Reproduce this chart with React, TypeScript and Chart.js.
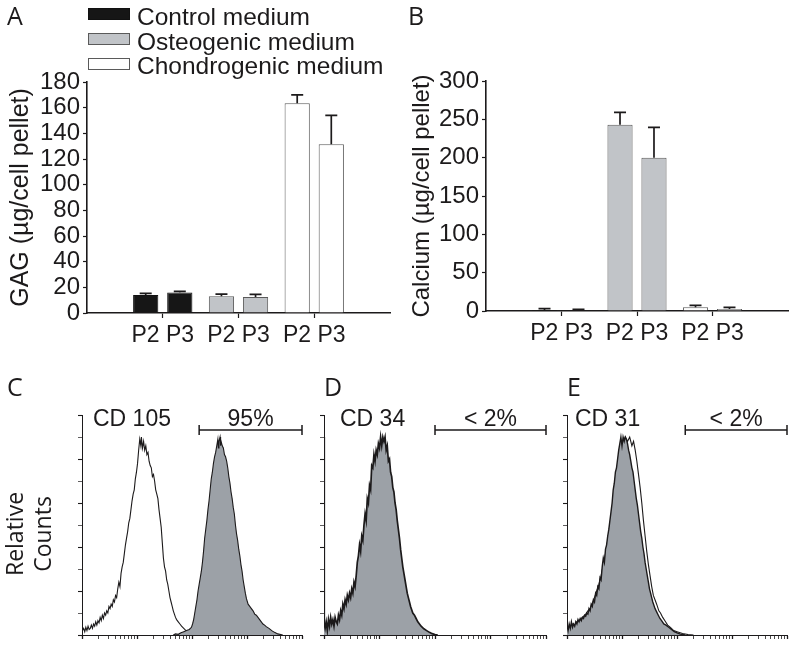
import React, { useEffect, useRef } from 'react';
import { Chart, registerables } from 'chart.js';

Chart.register(...registerables);

// ---------------- DATA ----------------
const groupLabels = ['', 'P2 P3', 'P2 P3', 'P2 P3', ''];
const mediumNames = ['Control medium', 'Osteogenic medium', 'Chondrogenic medium'];

// Panel A: GAG (µg/cell pellet) per medium, passages P2 and P3
const gagP2 = [14, 13, 163.5];
const gagP2Err = [1.3, 1.7, 6.5];
const gagP3 = [16, 12.5, 131.5];
const gagP3Err = [0.8, 2, 22.5];

// Panel B: Calcium (µg/cell pellet)
const caP2 = [1.3, 243, 4.8];
const caP2Err = [1.7, 16, 2.6];
const caP3 = [0.9, 200, 2.6];
const caP3Err = [1.3, 39.5, 2.2];

const yTicksA = { min: 0, max: 180, step: 20 };
const yTicksB = { min: 0, max: 300, step: 50 };

// Flow cytometry histograms: [log10 fluorescence, relative count]
const cd105Iso: [number, number][] = [[0,60],[0.008,2],[0.03,3],[0.05,1.5],[0.07,3.5],[0.09,2],[0.11,4],[0.13,2.5],[0.15,3],[0.17,4.5],[0.19,3],[0.21,5],[0.23,4],[0.25,6],[0.27,4.5],[0.29,6.5],[0.31,5.5],[0.33,8],[0.35,6.5],[0.37,9],[0.39,7.5],[0.41,10],[0.43,9],[0.45,11],[0.47,10],[0.49,13],[0.51,12],[0.53,14],[0.55,13],[0.57,16],[0.59,15],[0.61,18],[0.63,17],[0.65,21],[0.67,24],[0.69,22],[0.71,28],[0.73,31],[0.75,33],[0.77,37],[0.79,41],[0.81,44],[0.83,47],[0.85,51],[0.87,53],[0.89,57],[0.91,61],[0.93,64],[0.95,66],[0.97,71],[0.99,74],[1.01,78],[1.03,84],[1.05,89],[1.07,86],[1.08,90],[1.10,85],[1.12,88],[1.14,84],[1.16,86],[1.18,82],[1.20,83],[1.22,79],[1.24,77],[1.26,76],[1.28,72],[1.30,73],[1.32,70],[1.34,66],[1.36,64],[1.38,62],[1.40,57],[1.42,53],[1.44,49],[1.46,42],[1.48,35],[1.50,31],[1.52,29],[1.54,25],[1.56,23],[1.58,20],[1.60,17],[1.62,15],[1.64,13],[1.66,11],[1.68,9.5],[1.70,8],[1.72,7],[1.75,6],[1.78,5],[1.81,4],[1.85,3],[1.89,2],[1.94,1],[2.0,0.5],[2.1,0]];
const cd105: [number, number][] = [[1.66,0],[1.70,0.5],[1.75,0.3],[1.80,1],[1.85,1.5],[1.90,2],[1.95,2.5],[1.99,3.5],[2.01,5],[2.03,7],[2.05,10],[2.07,13],[2.09,16],[2.11,20],[2.13,23],[2.15,26],[2.17,29],[2.19,33],[2.21,38],[2.23,44],[2.25,48],[2.27,52],[2.29,57],[2.31,61],[2.33,66],[2.35,71],[2.37,74],[2.39,78],[2.41,81],[2.43,83],[2.45,86],[2.47,89],[2.48,85],[2.49,88],[2.51,90],[2.52,86],[2.53,88],[2.55,86],[2.57,85],[2.59,82],[2.61,81],[2.63,79],[2.65,76],[2.67,72],[2.69,69],[2.71,65],[2.73,62],[2.75,58],[2.77,55],[2.79,50],[2.81,46],[2.83,43],[2.85,39],[2.87,36],[2.89,32],[2.91,29],[2.93,25],[2.95,22],[2.97,19],[2.99,16.5],[3.02,14],[3.05,13],[3.08,12],[3.11,11],[3.14,9.5],[3.17,9],[3.20,8],[3.23,7],[3.26,6],[3.29,5],[3.32,4.5],[3.35,3.8],[3.40,3],[3.45,2],[3.50,1.2],[3.56,0.5],[3.65,0]];
const cd34: [number, number][] = [[0,90],[0.005,5],[0.02,3],[0.04,6],[0.06,2],[0.08,7],[0.10,4],[0.12,8],[0.14,5],[0.16,7],[0.18,4],[0.20,8],[0.22,6],[0.24,5],[0.26,9],[0.28,7],[0.30,11],[0.32,9],[0.34,14],[0.36,12],[0.38,16],[0.40,14],[0.42,18],[0.44,16],[0.46,19],[0.48,17],[0.50,21],[0.52,19],[0.54,24],[0.56,22],[0.58,27],[0.60,33],[0.62,36],[0.64,41],[0.66,38],[0.68,45],[0.70,43],[0.72,50],[0.74,55],[0.76,52],[0.78,62],[0.80,60],[0.82,68],[0.84,66],[0.86,77],[0.88,76],[0.90,82],[0.92,79],[0.94,84],[0.96,82],[0.98,87],[1.00,85],[1.02,90],[1.04,86],[1.06,90],[1.08,88],[1.10,90],[1.12,84],[1.14,86],[1.16,79],[1.18,80],[1.20,74],[1.22,72],[1.24,67],[1.26,65],[1.28,60],[1.30,57],[1.32,52],[1.34,48],[1.36,44],[1.38,39],[1.40,35],[1.42,31],[1.44,28],[1.46,25],[1.48,22],[1.50,19],[1.52,17],[1.54,15],[1.56,13],[1.58,11.5],[1.60,10],[1.63,9],[1.66,7.5],[1.69,6],[1.72,5],[1.75,4],[1.80,2.8],[1.85,2],[1.90,1.2],[1.95,0.6],[2.0,0.2],[2.05,0]];
const cd31: [number, number][] = [[0,90],[0.005,4],[0.02,2],[0.04,5],[0.06,3],[0.08,6],[0.10,3.5],[0.12,5],[0.14,4],[0.16,6],[0.18,5],[0.20,7],[0.22,6],[0.24,7.5],[0.26,6.5],[0.28,8],[0.30,7.5],[0.32,9],[0.34,8.5],[0.36,10],[0.38,9.5],[0.40,12],[0.42,11],[0.44,14],[0.46,13],[0.48,16],[0.50,15],[0.52,19],[0.54,18],[0.56,22],[0.58,21],[0.60,26],[0.62,25],[0.64,31],[0.66,35],[0.68,33],[0.70,39],[0.72,41],[0.74,45],[0.76,48],[0.78,52],[0.80,56],[0.82,60],[0.84,66],[0.86,69],[0.88,74],[0.90,76],[0.92,80],[0.94,84],[0.96,87],[0.98,90],[1.00,86],[1.02,90],[1.04,88],[1.06,90],[1.08,89],[1.10,87],[1.12,84],[1.14,82],[1.16,79],[1.18,76],[1.20,74],[1.22,70],[1.24,66],[1.26,62],[1.28,59],[1.30,55],[1.32,51],[1.34,47],[1.36,44],[1.38,40],[1.40,37],[1.42,33],[1.44,30],[1.46,27],[1.48,24],[1.50,21],[1.52,19],[1.54,17],[1.56,15],[1.58,13.5],[1.60,12],[1.63,10.5],[1.66,9],[1.69,7.5],[1.72,6.5],[1.76,5],[1.80,4.5],[1.85,3.5],[1.90,2.5],[1.95,1.5],[2.00,1],[2.06,0.4],[2.15,0]];
const cd31Iso: [number, number][] = [[0.005,5],[0.03,3],[0.06,4],[0.10,5],[0.14,4.5],[0.18,6],[0.22,6.5],[0.26,7.5],[0.30,8.5],[0.34,9.5],[0.38,11],[0.42,12],[0.46,14.5],[0.50,17],[0.54,20],[0.58,23],[0.62,27],[0.66,32],[0.70,37],[0.74,43],[0.78,50],[0.82,57],[0.86,65],[0.90,72],[0.94,80],[0.98,85],[1.02,88],[1.06,90],[1.10,88],[1.14,90],[1.18,86],[1.21,88],[1.24,84],[1.27,79],[1.30,73],[1.33,67],[1.36,60],[1.39,52],[1.42,45],[1.45,38],[1.48,32],[1.51,27],[1.54,22],[1.57,18],[1.60,16],[1.63,14],[1.67,11],[1.70,10],[1.74,8],[1.78,6.5],[1.83,4.5],[1.88,3.5],[1.94,2],[2.0,1.5],[2.1,0.7],[2.2,0.2],[2.3,0]];

// Gates (log10 range) and labels
const gateC = [2.13, 4];
const gateD = [2.0, 4];
const gateE = [2.15, 4];
const markerC = 'CD 105', pctC = '95%';
const markerD = 'CD 34', pctD = '< 2%';
const markerE = 'CD 31', pctE = '< 2%';

// ---------------- STYLE ----------------
const INK = '#1c1a1b';
const ARIAL = "'Liberation Sans', Arial, Helvetica, sans-serif";
const MYRIAD = "'Open Sans', 'Noto Sans', sans-serif";
const groupFill = ['#161616', '#c1c4c8', '#ffffff'];
const groupBorder = ['#111111', '#5a5a5a', '#5a5a5a'];
const histGray = '#9ca1a7';

const pad = (a: number[]) => [null, ...a, null];

function errorBarPlugin(errs: (number | null)[][]) {
  return {
    id: 'errorBars',
    afterDatasetsDraw(chart: any) {
      const { ctx } = chart;
      const y = chart.scales.y;
      ctx.save();
      ctx.strokeStyle = INK;
      ctx.lineWidth = 1.7;
      chart.data.datasets.forEach((ds: any, di: number) => {
        const meta = chart.getDatasetMeta(di);
        meta.data.forEach((bar: any, i: number) => {
          const v = ds.data[i];
          const e = errs[di][i];
          if (v == null || e == null) return;
          const top = y.getPixelForValue(v + e);
          ctx.beginPath();
          ctx.moveTo(bar.x, bar.y);
          ctx.lineTo(bar.x, top);
          ctx.moveTo(bar.x - 6, top);
          ctx.lineTo(bar.x + 6, top);
          ctx.stroke();
        });
      });
      ctx.restore();
    },
  };
}

function letterPlugin(letter: string, x: number, y: number) {
  return {
    id: 'panelLetter',
    afterDraw(chart: any) {
      const { ctx } = chart;
      ctx.save();
      ctx.fillStyle = INK;
      ctx.font = `25px ${MYRIAD}`;
      ctx.textAlign = 'left';
      ctx.textBaseline = 'alphabetic';
      ctx.fillText(letter, x, y);
      ctx.restore();
    },
  };
}

const legendPlugin = {
  id: 'mediumLegend',
  afterDraw(chart: any) {
    const { ctx } = chart;
    const rows = [8, 33, 58];
    const baselines = [25, 50, 74];
    ctx.save();
    mediumNames.forEach((name, i) => {
      ctx.fillStyle = groupFill[i];
      ctx.fillRect(88, rows[i], 42, 12);
      ctx.strokeStyle = groupBorder[i];
      ctx.lineWidth = 1;
      ctx.strokeRect(88.5, rows[i] + 0.5, 41, 11);
      ctx.fillStyle = INK;
      ctx.font = `24.5px ${ARIAL}`;
      ctx.textBaseline = 'alphabetic';
      ctx.fillText(name, 137, baselines[i]);
    });
    ctx.restore();
  },
};

function barConfig(p2: number[], p2e: number[], p3: number[], p3e: number[], yt: any, title: string, geom: any, letter: string, letterX: number, withLegend: boolean) {
  const fills = pad(groupFill as any) as any;
  const borders = pad(groupBorder as any) as any;
  const plugins: any[] = [errorBarPlugin([pad(p2e), pad(p3e)]), letterPlugin(letter, letterX, 25)];
  if (withLegend) plugins.push(legendPlugin);
  return {
    type: 'bar',
    data: {
      labels: groupLabels,
      datasets: [
        { label: 'P2', data: pad(p2), backgroundColor: fills, borderColor: borders, borderWidth: 1 },
        { label: 'P3', data: pad(p3), backgroundColor: fills, borderColor: borders, borderWidth: 1 },
      ],
    },
    options: {
      responsive: false,
      animation: false,
      layout: { padding: { left: 0, right: geom.right, top: geom.top, bottom: 0 } },
      datasets: { bar: { categoryPercentage: 0.9, barPercentage: 0.74 } },
      plugins: { legend: { display: false }, tooltip: { enabled: false }, title: { display: false } },
      scales: {
        x: {
          type: 'category',
          offset: false,
          grid: {
            display: true, offset: false, drawOnChartArea: false, drawTicks: true, tickLength: 5,
            tickWidth: 1.2,
            tickColor: (c: any) => (c.index === 0 || c.index === groupLabels.length - 1 ? 'rgba(0,0,0,0)' : INK),
          },
          border: { display: true, color: INK, width: 1.6 },
          ticks: { autoSkip: false, maxRotation: 0, padding: 4, color: INK, font: { family: ARIAL, size: 23 } },
          afterFit: (s: any) => { s.height = geom.xh; },
        },
        y: {
          min: yt.min, max: yt.max,
          ticks: { stepSize: yt.step, autoSkip: false, padding: 3, color: INK, font: { family: ARIAL, size: 24 } },
          grid: { drawOnChartArea: false, drawTicks: true, tickLength: 4, tickColor: INK, tickWidth: 1.2 },
          border: { display: true, color: INK, width: 1.6 },
          title: { display: true, text: title, color: INK, font: { family: ARIAL, size: geom.titleSize }, padding: { top: geom.titlePad, bottom: 0 } },
          afterFit: (s: any) => { s.width = geom.yw; },
        },
      },
    },
    plugins,
  };
}

const logTicks: number[] = [];
for (let e = 0; e < 4; e++) for (let k = 1; k <= 9; k++) logTicks.push(k * Math.pow(10, e));
logTicks.push(10000);

function toXY(arr: [number, number][]) {
  return arr.map(([d, c]) => ({ x: Math.pow(10, d), y: c }));
}

function gatePlugin(gate: number[], marker: string, pct: string, markerDx: number, withYLabel: boolean) {
  return {
    id: 'gate',
    afterDraw(chart: any) {
      const { ctx, chartArea } = chart;
      const xs = chart.scales.x;
      const x1 = xs.getPixelForValue(Math.pow(10, gate[0]));
      const x2 = xs.getPixelForValue(Math.pow(10, gate[1]));
      const gy = chartArea.top + 15;
      ctx.save();
      ctx.strokeStyle = INK;
      ctx.lineWidth = 1.5;
      ctx.beginPath();
      ctx.moveTo(x1, gy); ctx.lineTo(x2, gy);
      ctx.moveTo(x1, gy - 5); ctx.lineTo(x1, gy + 5);
      ctx.moveTo(x2, gy - 5); ctx.lineTo(x2, gy + 5);
      ctx.stroke();
      ctx.fillStyle = INK;
      ctx.font = `23px ${ARIAL}`;
      ctx.textBaseline = 'alphabetic';
      ctx.textAlign = 'center';
      ctx.fillText(pct, (x1 + x2) / 2, chartArea.top + 11);
      ctx.textAlign = 'left';
      ctx.fillText(marker, chartArea.left + markerDx, chartArea.top + 11);
      if (withYLabel) {
        ctx.font = `23px ${MYRIAD}`;
        ctx.textAlign = 'center';
        ctx.textBaseline = 'middle';
        ctx.translate(0, 174);
        ctx.rotate(-Math.PI / 2);
        ctx.fillText('Relative', 0, 16);
        ctx.fillText('Counts', 0, 44);
      }
      ctx.restore();
    },
  };
}

function histConfig(datasets: any[], geom: any, gate: number[], marker: string, pct: string, markerDx: number, letter: string, letterX: number, withYLabel: boolean) {
  return {
    type: 'line',
    data: { datasets },
    options: {
      responsive: false,
      animation: false,
      layout: { padding: { left: 0, right: geom.right, top: 55, bottom: 0 } },
      elements: { point: { radius: 0 }, line: { tension: 0 } },
      plugins: { legend: { display: false }, tooltip: { enabled: false } },
      scales: {
        x: {
          type: 'logarithmic', min: 1, max: 10000,
          afterBuildTicks: (s: any) => { s.ticks = logTicks.map((v) => ({ value: v })); },
          ticks: { display: false },
          grid: {
            drawOnChartArea: false, drawTicks: true, tickLength: 4, tickColor: INK,
            tickWidth: (c: any) => {
              const v = c.tick ? c.tick.value : 1;
              const lg = Math.log10(v);
              return Math.abs(lg - Math.round(lg)) < 1e-6 ? 1.3 : 0.8;
            },
          },
          border: { display: true, color: INK, width: 1 },
          afterFit: (s: any) => { s.height = 13; },
        },
        y: {
          min: 0, max: 100,
          ticks: { display: false, stepSize: 10 },
          grid: {
            drawOnChartArea: false, drawTicks: true, tickLength: 4, tickColor: INK,
            tickWidth: (c: any) => (c.tick && c.tick.value % 20 === 0 ? 1.1 : 0.7),
          },
          border: { display: true, color: INK, width: 1 },
          afterFit: (s: any) => { s.width = geom.yw; },
        },
      },
    },
    plugins: [gatePlugin(gate, marker, pct, markerDx, withYLabel), letterPlugin(letter, letterX, 36)],
  };
}

function Panel({ left, top, width, height, make }: any) {
  const ref = useRef<HTMLCanvasElement>(null);
  useEffect(() => {
    const chart = new Chart(ref.current as HTMLCanvasElement, make());
    return () => chart.destroy();
  }, []);
  return (
    <canvas
      ref={ref}
      width={width}
      height={height}
      style={{ position: 'absolute', left, top, width, height }}
    />
  );
}

export default function App() {
  const line = (arr: [number, number][], w: number) => ({ data: toXY(arr), borderColor: INK, borderWidth: w, fill: false, pointRadius: 0 });
  const filled = (arr: [number, number][], w: number) => ({ data: toXY(arr), borderColor: INK, borderWidth: w, backgroundColor: histGray, fill: 'origin', pointRadius: 0 });
  return (
    <div style={{ position: 'absolute', left: 0, top: 0, width: 795, height: 648, background: '#fff' }}>
      <Panel left={0} top={0} width={400} height={352}
        make={() => barConfig(gagP2, gagP2Err, gagP3, gagP3Err, yTicksA, 'GAG (µg/cell pellet)',
          { right: 10, top: 82, xh: 39, yw: 87, titleSize: 25, titlePad: 6 }, 'A', 7, true)} />
      <Panel left={400} top={0} width={395} height={352}
        make={() => barConfig(caP2, caP2Err, caP3, caP3Err, yTicksB, 'Calcium (µg/cell pellet)',
          { right: 7, top: 81, xh: 41, yw: 86, titleSize: 24, titlePad: 8 }, 'B', 8, false)} />
      <Panel left={0} top={360} width={310} height={288}
        make={() => histConfig([filled(cd105, 1.1), line(cd105Iso, 1.1)], { right: 8, yw: 82 }, gateC, markerC, pctC, 11, 'C', 7, true)} />
      <Panel left={310} top={360} width={245} height={288}
        make={() => histConfig([filled(cd34, 1.7)], { right: 9, yw: 14 }, gateD, markerD, pctD, 16, 'D', 14, false)} />
      <Panel left={555} top={360} width={240} height={288}
        make={() => histConfig([filled(cd31, 1.4), line(cd31Iso, 1.1)], { right: 8, yw: 12 }, gateE, markerE, pctE, 8, 'E', 12, false)} />
    </div>
  );
}
